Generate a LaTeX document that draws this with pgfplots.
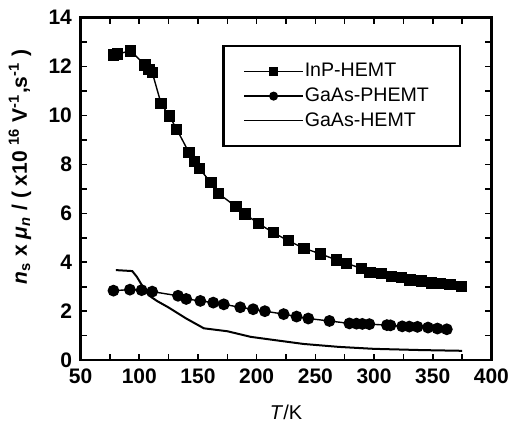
\documentclass[border=0pt]{standalone}
\usepackage{fontspec}
\setmainfont{Liberation Sans}
\usepackage{pgfplots}
\pgfplotsset{compat=1.18}

\pgfplotstableread{
T v
77.9 12.47
81.3 12.52
92.7 12.64
104.9 12.07
108.3 11.89
111.1 11.75
118.5 10.50
125.6 9.98
131.9 9.44
142.4 8.48
146.9 8.11
151.1 7.84
161.1 7.25
167.3 6.82
182.4 6.27
190.1 5.97
201.4 5.59
214.2 5.21
227.0 4.88
240.4 4.57
254.6 4.34
268.2 4.09
276.7 3.95
289.5 3.75
296.6 3.57
306.6 3.55
315.1 3.41
323.6 3.37
330.7 3.27
340.6 3.24
349.2 3.16
356.2 3.14
364.8 3.10
374.7 3.00
}\inp

\pgfplotstableread{
T v
78 2.84
92 2.88
102 2.86
111 2.80
133 2.63
140 2.50
152 2.42
163 2.35
172 2.28
186 2.16
197 2.08
207 2.00
223 1.88
234 1.78
244 1.70
262 1.60
279 1.50
285 1.49
290 1.48
296 1.47
311 1.43
314 1.42
324 1.38
330 1.37
337 1.36
346 1.33
354 1.29
362 1.26
}\phemt

\pgfplotstableread{
T v
80 3.68
94 3.64
98 3.40
103 3.00
108 2.65
115 2.42
125 2.15
140 1.70
155 1.30
175 1.18
195 0.95
215 0.82
240 0.66
270 0.54
300 0.46
340 0.41
375 0.38
}\hemt

\begin{document}
\begin{tikzpicture}
\begin{axis}[
    scale only axis,
    width=205.4pt, height=171.2pt,
    xmin=50, xmax=400, ymin=0, ymax=14,
    xtick={50,100,...,400}, ytick={0,2,...,14},
    minor x tick num=1, minor y tick num=1,
    major tick length=3pt, minor tick length=3pt,
    axis line style={line width=1.2pt},
    every tick/.style={black, line width=0.8pt},
    tick label style={font=\fontsize{10.5}{12}\selectfont\bfseries},
    xticklabel style={yshift=-1pt},
    yticklabel style={xshift=-0.8pt},
    /pgf/number format/assume math mode=true,
    xlabel={\textit{T}/K},
    xlabel style={font=\fontsize{10}{12}\selectfont,
        at={(axis description cs:0.5,-0.152)}, anchor=center},
    ylabel={\textit{n}\textsubscript{s} x \textit{μ}\textsubscript{\textit{n}} / ( x10 \textsuperscript{16} V\textsuperscript{-1},s\textsuperscript{-1} )},
    ylabel style={font=\fontsize{10.5}{12}\selectfont\bfseries,
        at={(axis description cs:-0.1475,0.564)}, anchor=center},
    legend style={at={(0.926,0.920)}, anchor=north east, draw=black,
        line width=1.2pt, font=\fontsize{9.8}{12}\selectfont,
        inner xsep=10pt, inner ysep=8pt, row sep=3pt,
        nodes={inner sep=0.5pt}},
    legend cell align=left,
    legend image code/.code={\draw[mark repeat=2,mark phase=2,line width=0.7pt] plot coordinates {(0pt,0pt) (14.75pt,0pt) (29.5pt,0pt)};},
    legend image post style={mark size=1.9pt},
]
\addplot[black, line width=0.7pt, mark=square*, mark size=2.5pt] table {\inp};
\addplot[black, line width=0.7pt, mark=*, mark size=2.6pt] table {\phemt};
\addplot[black, line width=1pt] table {\hemt};
\legend{\makebox[67pt][l]{InP-HEMT}, GaAs-PHEMT, GaAs-HEMT}
\end{axis}
\pgfresetboundingbox
\path ([xshift=-40.3pt,yshift=-31pt]current axis.south west) rectangle ([xshift=8.3pt,yshift=8.85pt]current axis.north east);
\end{tikzpicture}
\end{document}
